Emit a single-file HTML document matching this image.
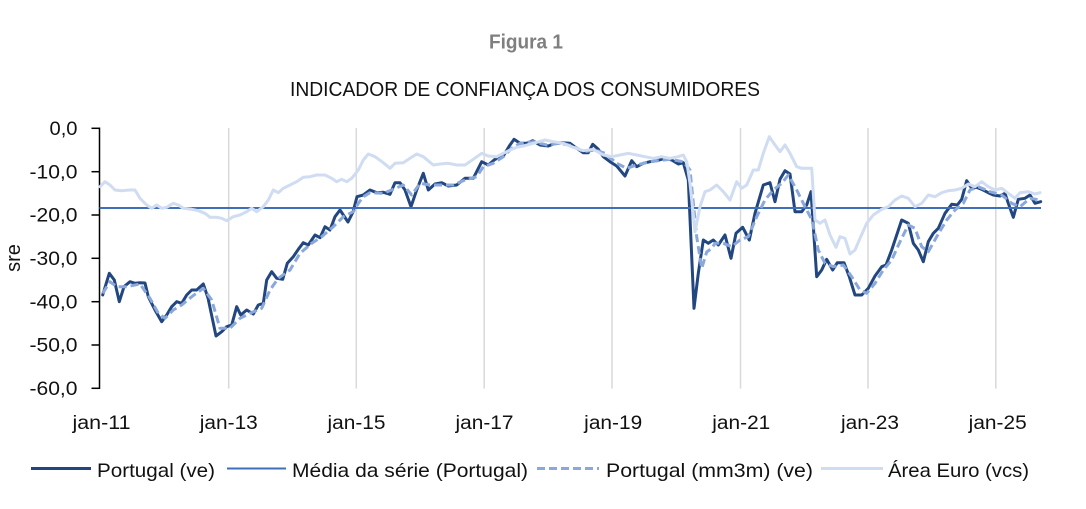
<!DOCTYPE html>
<html>
<head>
<meta charset="utf-8">
<style>
  html, body { margin: 0; padding: 0; background: #ffffff; }
  body { width: 1086px; height: 509px; overflow: hidden; }
  svg { display: block; }
  text { font-family: "Liberation Sans", sans-serif; }
</style>
</head>
<body>
<svg width="1086" height="509" viewBox="0 0 1086 509" xmlns="http://www.w3.org/2000/svg">
  <rect x="0" y="0" width="1086" height="509" fill="#ffffff"/>

  <!-- Titles -->
  <text x="489" y="48.7" font-size="20" font-weight="bold" fill="#7f7f7f" textLength="74" lengthAdjust="spacingAndGlyphs">Figura 1</text>
  <text x="290" y="96" font-size="20" fill="#111111" textLength="470" lengthAdjust="spacingAndGlyphs">INDICADOR DE CONFIANÇA DOS CONSUMIDORES</text>

  <!-- Vertical gridlines -->
  <g stroke="#d9d9d9" stroke-width="1.5">
    <line x1="228.7" y1="128" x2="228.7" y2="388.5"/>
    <line x1="356.3" y1="128" x2="356.3" y2="388.5"/>
    <line x1="484.2" y1="128" x2="484.2" y2="388.5"/>
    <line x1="612" y1="128" x2="612" y2="388.5"/>
    <line x1="740.5" y1="128" x2="740.5" y2="388.5"/>
    <line x1="868" y1="128" x2="868" y2="388.5"/>
    <line x1="995.8" y1="128" x2="995.8" y2="388.5"/>
  </g>

  <!-- Y axis -->
  <g stroke="#000000" stroke-width="1.5">
    <line x1="99.5" y1="127.5" x2="99.5" y2="389"/>
    <line x1="91.5" y1="128.3" x2="99.5" y2="128.3"/>
    <line x1="91.5" y1="171.7" x2="99.5" y2="171.7"/>
    <line x1="91.5" y1="215" x2="99.5" y2="215"/>
    <line x1="91.5" y1="258.3" x2="99.5" y2="258.3"/>
    <line x1="91.5" y1="301.7" x2="99.5" y2="301.7"/>
    <line x1="91.5" y1="345" x2="99.5" y2="345"/>
    <line x1="91.5" y1="388.3" x2="99.5" y2="388.3"/>
  </g>
  <g font-size="19" fill="#111111" text-anchor="end">
    <text x="77.5" y="135" textLength="28" lengthAdjust="spacingAndGlyphs">0,0</text>
    <text x="77.5" y="178.4" textLength="48" lengthAdjust="spacingAndGlyphs">-10,0</text>
    <text x="77.5" y="221.7" textLength="48" lengthAdjust="spacingAndGlyphs">-20,0</text>
    <text x="77.5" y="265" textLength="48" lengthAdjust="spacingAndGlyphs">-30,0</text>
    <text x="77.5" y="308.4" textLength="48" lengthAdjust="spacingAndGlyphs">-40,0</text>
    <text x="77.5" y="351.7" textLength="48" lengthAdjust="spacingAndGlyphs">-50,0</text>
    <text x="77.5" y="395" textLength="48" lengthAdjust="spacingAndGlyphs">-60,0</text>
  </g>
  <text transform="translate(20,258) rotate(-90)" font-size="20" fill="#111111" text-anchor="middle">sre</text>

  <!-- X labels -->
  <g font-size="19" fill="#111111">
    <text x="72.5" y="429" textLength="58" lengthAdjust="spacingAndGlyphs">jan-11</text>
    <text x="199.8" y="429" textLength="58" lengthAdjust="spacingAndGlyphs">jan-13</text>
    <text x="327.5" y="429" textLength="58" lengthAdjust="spacingAndGlyphs">jan-15</text>
    <text x="455.5" y="429" textLength="58" lengthAdjust="spacingAndGlyphs">jan-17</text>
    <text x="584.2" y="429" textLength="58" lengthAdjust="spacingAndGlyphs">jan-19</text>
    <text x="712.3" y="429" textLength="58" lengthAdjust="spacingAndGlyphs">jan-21</text>
    <text x="841" y="429" textLength="58" lengthAdjust="spacingAndGlyphs">jan-23</text>
    <text x="968.7" y="429" textLength="58" lengthAdjust="spacingAndGlyphs">jan-25</text>
  </g>

  <!-- Portugal (ve) -->
  <polyline fill="none" stroke="#22467f" stroke-width="3" stroke-linejoin="round" stroke-linecap="round" points="102.7,295 109.3,273.3 114.3,280 119.3,301.7 124,286.7 130,281.7 135,283.3 140,282.7 145,283 148.3,296.7 155,310 161.7,321.7 166.7,315 171.7,306.7 176.7,301.7 181.7,303.3 186.7,295 191.7,290 196.7,290 203.3,284 208,298 216,336 221.7,331.7 226.7,326.7 231.7,325 236.7,306.7 240.7,315 246.7,310 253.3,314 258.3,305 263.3,303.3 266.7,280 271.7,271.7 276.7,278.3 282.7,279.3 287.3,263.3 293.3,256.7 298.3,249.3 303.3,242.7 308.3,245 315,235 320,237.7 325,226.7 330,230 335,216.7 340,210 348,222 353,212 357,196.7 363.3,195 370,190 376.7,192.7 383.3,192.3 390,194.3 395,182.7 400,182.7 405,190 411,206.7 416.7,190 423.3,173.3 428.3,190 435,184 441.7,182.7 448.3,186 456.7,185 465,178.3 473.3,178.3 481.7,161.7 488.3,165 495,159.3 503.3,156 509.3,146 514,139.3 520,143.3 526.7,143.3 532.7,140.7 540,145 548.3,146 555,143.3 561.7,142.7 570,143.3 576.7,148.3 583.3,152.7 588.3,152.7 592.7,144.3 598.3,149.3 603.3,156.7 610,161.7 616.7,166 625,176 631.7,160.7 636.7,166.7 643.3,163.3 650,161.7 656.7,160.7 665,158.3 671.7,160 678.3,164 683.3,162.7 688.3,180 694,308.3 698.3,273.3 703.3,240 708.3,243.3 713.3,240 718.3,245 725,235 731,258.3 736,233.3 742.7,227.3 749.3,240 755,213.3 763.3,185 770,182.7 775,201.7 780,179.3 785,170.7 790,174 795,211.7 801.7,211.7 806.7,205 811,191.7 816.7,276.7 821.7,270 826.7,259.3 832.7,270 837.3,262.7 844,262.7 849.3,276.7 855,295 861.7,295 868.3,288.3 875,276 881.7,266.7 886,265 891.7,250 896.7,235 901.7,220 908.3,223.3 913.3,243.3 918.3,250 923.3,261.7 928.3,241.7 933.3,233.3 938.3,228.3 945,213.3 951.7,204.3 957.3,205 961.7,199.3 966.7,180.7 971.7,188.3 976.7,187.3 981.7,189.3 988.3,192.7 993.3,195 1000,196 1005,193.3 1008.3,203.3 1013.3,217.3 1018.3,199.3 1025,198.3 1030,195 1035,203.3 1040.7,201.7"/>

  <!-- Média da série -->
  <line x1="99.5" y1="208" x2="1041" y2="208" stroke="#3f6fb8" stroke-width="2"/>

  <!-- Portugal (mm3m) -->
  <polyline fill="none" stroke="#8aa8dc" stroke-width="3" stroke-dasharray="8,4" stroke-linejoin="round" points="102.7,293.3 110,281.7 116.7,286.7 126.7,286.7 140,284 150,298.3 158.3,313.3 165,318.3 173.3,310 181.7,305 191.7,296.7 203.3,288.3 211.7,300 220,328.3 230,328.3 240,318.3 250,313.3 261.7,308.3 270,290 278.3,278.3 290,270 300,253.3 311.7,243.3 321.7,236.7 333.3,226.7 343.3,216.7 353.3,211.7 358.3,203.3 363.3,196.7 370,192.7 383.3,193.3 393.3,189.3 403.3,185 411.7,195 420,183.3 430,185 440,185 453.3,185 465,180 476.7,176.7 483.3,166.7 493.3,163.3 503.3,156.7 511.7,148.3 520,143.3 533.3,141.7 546.7,145 560,143.3 573.3,146 583.3,151.7 595,150 605,153.3 616.7,163.3 626.7,168.3 636.7,165 650,161.7 670,159.3 683.3,161.7 690,170 696.7,236.7 701.7,268.3 706.7,252 712,248 715,243.3 723.3,243.3 731.7,246.7 740,240 748.3,236.7 756.7,216.7 765,200 773.3,190 781.7,183.3 788.3,175 796.7,190 805,206.7 812,220 818.3,250 825,263.3 833.3,266.7 843.3,265 851.7,276.7 860,290 866.7,293.3 875,283.3 883.3,270 891.7,260 900,241.7 908.3,225 915,228.3 921.7,246.7 928.3,251.7 936.7,236.7 946.7,220 955,210 963.3,203.3 970,190 978.3,186.7 990,191.7 1001.7,195 1011.7,203.3 1020,206.7 1030,198.3 1040,200"/>

  <!-- Área Euro -->
  <polyline fill="none" stroke="#d0dcf1" stroke-width="3" stroke-linejoin="round" stroke-linecap="round" points="100,186.7 105,181.7 110,185 115,190 121.7,190.7 130,190 135,190 140,198.3 146.7,205 151.7,208.3 156.7,205 161.7,208.3 166.7,207.3 173.3,203.3 178.3,205 183.3,208.3 191.7,209.3 198.3,210.7 205,213.3 210,217.3 216.7,217.3 221.7,218.3 226.7,220.7 233.3,216.7 240,215 246.7,211.7 251.7,208.3 256.7,211.7 263.3,206.7 268.3,200 273.3,190 278.3,192.7 283.3,188.3 290,185 296.7,181.7 303.3,177.3 310,176.7 316.7,175 325,175 331.7,178.3 336.7,181.7 341.7,179.3 346.7,181.7 351.7,178.3 358.3,170 363.3,160 368.3,154 375,156.7 383.3,162.7 390,168.3 395,163.3 403.3,162.7 410,158.3 416.7,154 423.3,156.7 433.3,165 440,164 448.3,163.3 456.7,165 465,165 473.3,159.3 481.7,153.3 488.3,156 496.7,156.7 503.3,153.3 510,150 516.7,147.3 523.3,146 533.3,143.3 545,140 553.3,141.7 563.3,143.3 573.3,147.3 583.3,150.7 593.3,149.3 603.3,155 611.7,156.7 620,155 628.3,153.3 636.7,155 645,156.7 653.3,158.3 661.7,156.7 670,158.3 678.3,156.7 683.3,155 686.7,161.7 690,183.3 695,231.7 700,206.7 705,191.7 710,190 716.7,185 723.3,191.7 730,200 736.7,181.7 741.7,188.3 746.7,185 753.3,170 758.3,170 763.3,153.3 769.3,136.7 775,145 780,151.7 785,145 790,153.3 796.7,166.7 801.7,168.3 811.7,168.3 815,220 820,223.3 825,220 830,235 836,247.3 840,236.7 845,238.3 850,254 855,250 860,238.3 866.7,223.3 873.3,215 881.7,209.3 888.3,206.7 895,200 901.7,196 908.3,198.3 915,206.7 921.7,203.3 928.3,195 935,196.7 941.7,192.7 948.3,190.7 955,190 961.7,188.3 968.3,184 975,186.7 981.7,181.7 988.3,186.7 995,190 1001.7,188.3 1008.3,193.3 1015,198.3 1020,192.7 1028.3,191.7 1035,194 1040,192.7"/>

  <!-- Legend -->
  <line x1="31" y1="468.5" x2="91" y2="468.5" stroke="#22467f" stroke-width="3"/>
  <line x1="227" y1="468.5" x2="286" y2="468.5" stroke="#3f6fb8" stroke-width="2"/>
  <line x1="537" y1="468.5" x2="599" y2="468.5" stroke="#8aa8dc" stroke-width="3" stroke-dasharray="8,4"/>
  <line x1="821" y1="468.5" x2="883" y2="468.5" stroke="#d0dcf1" stroke-width="3"/>
  <g font-size="19.5" fill="#111111">
    <text x="97" y="477" textLength="118" lengthAdjust="spacingAndGlyphs">Portugal (ve)</text>
    <text x="292" y="477" textLength="236" lengthAdjust="spacingAndGlyphs">Média da série (Portugal)</text>
    <text x="606" y="477" textLength="207" lengthAdjust="spacingAndGlyphs">Portugal (mm3m) (ve)</text>
    <text x="888" y="477" textLength="141" lengthAdjust="spacingAndGlyphs">Área Euro (vcs)</text>
  </g>
</svg>
</body>
</html>
